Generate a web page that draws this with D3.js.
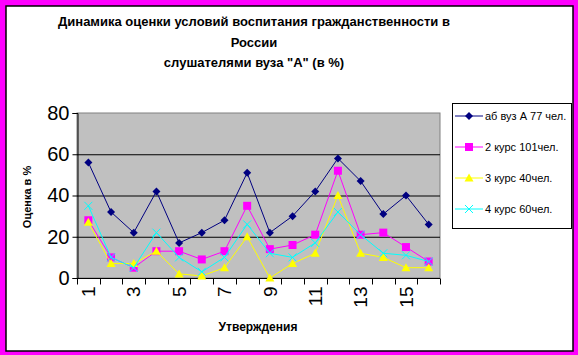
<!DOCTYPE html>
<html lang="ru">
<head>
<meta charset="UTF-8">
<title>Динамика оценки</title>
<script src="https://d3js.org/d3.v7.min.js"></script>
<style>
  body { margin: 0; background: #ff00ff; }
  svg { display: block; font-family: Arial, "Liberation Sans", sans-serif; }
</style>
</head>
<body>
<svg></svg>
<script>
// data
let categories = d3.range(1, 17);
let seriesNames = ["аб вуз А 77 чел.", "2 курс 101чел.", "3 курс 40чел.", "4 курс 60чел."];
let vuz77 = [56, 32, 22, 42, 17, 22, 28, 51, 22, 30, 42, 58, 47, 31, 40, 26];
let kurs2 = [28, 10, 5, 13, 13, 9, 13, 35, 14, 16, 21, 52, 21, 22, 15, 8];
let kurs3 = [27, 7, 7, 13, 2, 1, 5, 20, 0, 7, 12, 40, 12, 10, 5, 5];
let kurs4 = [35, 10, 5, 22, 10, 3, 10, 26, 12, 10, 17, 32, 21, 12, 11, 8];
let yTicks = [0, 20, 40, 60, 80];

let width = 578, height = 355;
let plot = {left: 77, right: 440, top: 113, bottom: 278};

let svg = d3.select("svg").attr("width", width).attr("height", height);

// frame
svg.append("rect").attr("width", width).attr("height", height).attr("fill", "#ff00ff");
svg.append("rect").attr("x", 6).attr("y", 6).attr("width", 567).attr("height", 345)
    .attr("fill", "#fff").attr("stroke", "#000").attr("stroke-width", 1.5);

// title
let title = ["Динамика оценки условий воспитания гражданственности в", "России", "слушателями вуза \"А\" (в %)"];
svg.append("g").selectAll("text").data(title).enter().append("text")
    .attr("x", 254).attr("y", (d, i) => 26 + i * 20.5)
    .attr("text-anchor", "middle").attr("font-weight", "bold").attr("font-size", 13)
    .text(d => d);

let x = d3.scaleBand().domain(categories).range([plot.left, plot.right]);
let y = d3.scaleLinear().domain([0, 80]).range([plot.bottom, plot.top]);

// plot area
svg.append("rect").attr("x", plot.left).attr("y", plot.top)
    .attr("width", plot.right - plot.left).attr("height", plot.bottom - plot.top)
    .attr("fill", "#c0c0c0").attr("stroke", "#808080");

svg.append("g").selectAll("line").data(yTicks.filter(d => d > 0 && d < 80)).enter().append("line")
    .attr("x1", plot.left).attr("x2", plot.right)
    .attr("y1", d => y(d) + 0.5).attr("y2", d => y(d) + 0.5)
    .attr("stroke", "#000");

// y axis
let yAxis = svg.append("g").attr("transform", "translate(" + (plot.left + 0.5) + ",0)")
    .call(d3.axisLeft(y).tickValues(yTicks).tickSize(5).tickPadding(3));
yAxis.select(".domain").attr("stroke", "#000");
yAxis.selectAll("text").attr("font-size", 20).attr("font-family", "Arial, sans-serif").attr("fill", "#000");

// x axis: ticks at category boundaries
let xAxis = svg.append("g").attr("transform", "translate(0," + (plot.bottom + 0.5) + ")");
xAxis.append("line").attr("x1", plot.left).attr("x2", plot.right).attr("stroke", "#000");
let bounds = categories.map(c => x(c)).concat([plot.right]);
xAxis.selectAll("line.tick").data(bounds).enter().append("line")
    .attr("class", "tick")
    .attr("x1", d => Math.round(d) + 0.5).attr("x2", d => Math.round(d) + 0.5)
    .attr("y1", 0).attr("y2", 6).attr("stroke", "#000");
xAxis.selectAll("text").data(categories.filter(c => c % 2 === 1)).enter().append("text")
    .attr("transform", d => "translate(" + (x(d) + x.bandwidth() / 2) + ",8) rotate(-90)")
    .attr("text-anchor", "end").attr("dy", "0.35em")
    .attr("font-size", 19)
    .text(d => d);

// axis titles
svg.append("text").attr("x", 258).attr("y", 331)
    .attr("text-anchor", "middle").attr("font-weight", "bold").attr("font-size", 12)
    .text("Утверждения");
svg.append("text").attr("transform", "translate(27,197) rotate(-90)")
    .attr("text-anchor", "middle").attr("dy", "0.35em").attr("font-weight", "bold").attr("font-size", 11)
    .text("Оценка в %");

// series
let colors = ["#000080", "#ff00ff", "#ffff00", "#00ffff"];
let symbols = ["diamond", "square", "triangle", "cross"];
let allSeries = [vuz77, kurs2, kurs3, kurs4];

let line = d3.line()
    .x((d, i) => x(categories[i]) + x.bandwidth() / 2)
    .y(d => y(d));

function marker(g, kind, color) {
  if (kind === "diamond") {
    g.append("path").attr("d", "M0,-4L4,0L0,4L-4,0Z").attr("fill", color);
  } else if (kind === "square") {
    g.append("rect").attr("x", -4).attr("y", -4).attr("width", 8).attr("height", 8).attr("fill", color);
  } else if (kind === "triangle") {
    g.append("path").attr("d", "M0,-4.5L4.5,3.5L-4.5,3.5Z").attr("fill", color);
  } else {
    g.append("path").attr("d", "M-4,-4L4,4M-4,4L4,-4").attr("stroke", color).attr("stroke-width", 1);
  }
}

allSeries.forEach((vals, s) => {
  let g = svg.append("g");
  g.append("path").datum(vals).attr("d", line)
      .attr("fill", "none").attr("stroke", colors[s]).attr("stroke-width", 1);
  vals.forEach((v, i) => {
    let m = g.append("g").attr("transform", "translate(" + (x(categories[i]) + x.bandwidth() / 2) + "," + y(v) + ")");
    marker(m, symbols[s], colors[s]);
  });
});

// legend
let legend = svg.append("g");
legend.append("rect").attr("x", 452.5).attr("y", 103.5).attr("width", 119).attr("height", 125)
    .attr("fill", "#fff").attr("stroke", "#000");
seriesNames.forEach((name, s) => {
  let ly = 116 + s * 31;
  legend.append("line").attr("x1", 455).attr("x2", 483).attr("y1", ly).attr("y2", ly)
      .attr("stroke", colors[s]);
  marker(legend.append("g").attr("transform", "translate(469," + ly + ")"), symbols[s], colors[s]);
  legend.append("text").attr("x", 485).attr("y", ly).attr("dy", "0.35em")
      .attr("font-size", 11).text(name);
});
</script>
</body>
</html>
